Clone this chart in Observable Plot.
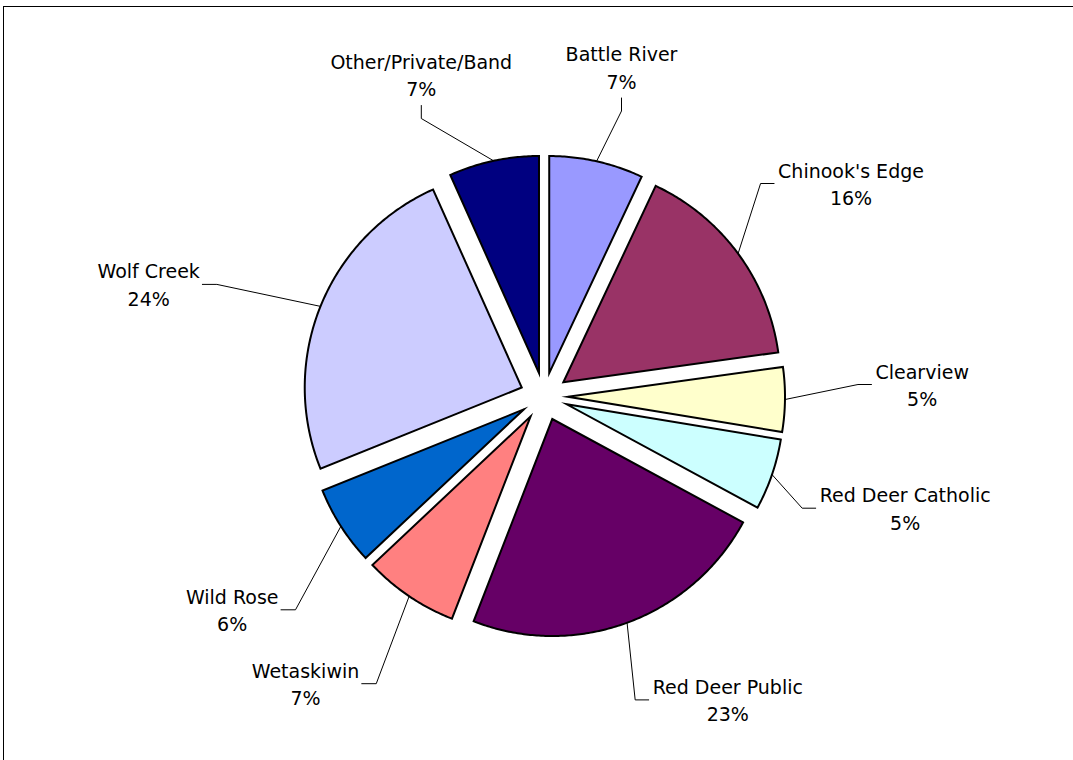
<!DOCTYPE html>
<html><head><meta charset="utf-8">
<script src="https://cdn.jsdelivr.net/npm/d3@7"></script>
<script src="https://cdn.jsdelivr.net/npm/@observablehq/plot@0.6"></script>
<style>
html,body{margin:0;padding:0;background:#fff;}
#wrap{position:relative;width:1073px;height:760px;overflow:hidden;}
#frame{position:absolute;left:3px;top:6px;width:1200px;height:900px;border-left:1px solid #000;border-top:1px solid #000;pointer-events:none;}
</style></head><body>
<div id="wrap"><div id="chart"></div><div id="frame"></div></div>
<script>
// ---- data ----
const districts = ["Battle River","Chinook's Edge","Clearview","Red Deer Catholic","Red Deer Public","Wetaskiwin","Wild Rose","Wolf Creek","Other/Private/Band"];
const shares = [7.0, 15.8, 4.8, 5.3, 23.0, 7.1, 5.9, 24.4, 6.7];
const percentLabels = ["7%","16%","5%","5%","23%","7%","6%","24%","7%"];
const sliceColors = ["#9999FF","#993366","#FFFFCC","#CCFFFF","#660066","#FF8080","#0066CC","#CCCCFF","#000080"];

// ---- layout ----
const W = 1073, H = 760, CX = 543.5, CY = 396, R = 217, EXPLODE = 24;
const FONT = 19, FAMILY = "DejaVu Sans";
const labelCenters = [[621,69.5],[850.5,186],[921.7,387],[904.7,510.7],[727.3,702.4],[305,686.2],[231.7,612.3],[148.2,286.9],[420.8,77]];
const leaderSide = ["bottom","left","left","left","left","right","right","right","bottom"];

const arcs = d3.pie().sort(null).value(d => d)(shares);

const slicePts = [];
const arcPoints = [];
arcs.forEach((a, i) => {
  const m = (a.startAngle + a.endAngle) / 2;
  const tx = CX + EXPLODE * Math.sin(m), ty = CY - EXPLODE * Math.cos(m);
  arcPoints.push([tx + R * Math.sin(m), ty - R * Math.cos(m)]);
  slicePts.push({i, x: tx, y: ty});
  const n = Math.max(4, Math.ceil((a.endAngle - a.startAngle) / 0.01));
  for (let k = 0; k <= n; k++) {
    const t = a.startAngle + (a.endAngle - a.startAngle) * k / n;
    slicePts.push({i, x: tx + R * Math.sin(t), y: ty - R * Math.cos(t)});
  }
  slicePts.push({i, x: tx, y: ty});
  slicePts.push({i, x: tx + R * Math.sin(a.startAngle), y: ty - R * Math.cos(a.startAngle)});
});

const ctx = document.createElement("canvas").getContext("2d");
ctx.font = `${FONT}px "${FAMILY}"`;

const labelData = districts.map((name, i) => ({
  x: labelCenters[i][0], y: labelCenters[i][1], text: name + "\n" + percentLabels[i]
}));

const leaderPts = [];
districts.forEach((name, i) => {
  const [lx, ly] = labelCenters[i];
  const w = ctx.measureText(name).width;
  let s, e;
  if (leaderSide[i] === "bottom") { s = [lx, ly + 28]; e = [lx, ly + 41]; }
  else if (leaderSide[i] === "left") { s = [lx - w / 2 - 4, ly - 3]; e = [s[0] - 13.5, ly - 3]; }
  else { s = [lx + w / 2 + 2.5, ly - 3]; e = [s[0] + 14.5, ly - 3]; }
  [s, e, arcPoints[i]].forEach(p => leaderPts.push({i, x: p[0], y: p[1]}));
});

const marks = arcs.map((a, i) => Plot.line(slicePts.filter(p => p.i === i), {
  x: "x", y: "y", fill: sliceColors[i], stroke: "#000", strokeWidth: 2, strokeLinejoin: "miter", strokeMiterlimit: 10
}));
marks.push(Plot.line(leaderPts, {x: "x", y: "y", z: "i", stroke: "#000", strokeWidth: 1}));
marks.push(Plot.text(labelData, {x: "x", y: "y", dy: -4, text: "text", fontSize: FONT, fontFamily: FAMILY, lineHeight: 27.5 / FONT, fill: "#000", textAnchor: "middle"}));

const chart = Plot.plot({
  width: W, height: H, margin: 0,
  x: {domain: [0, W], range: [0, W], axis: null},
  y: {domain: [0, H], range: [0, H], axis: null},
  style: {background: "transparent"},
  marks
});
document.getElementById("chart").appendChild(chart);
</script>
</body></html>
